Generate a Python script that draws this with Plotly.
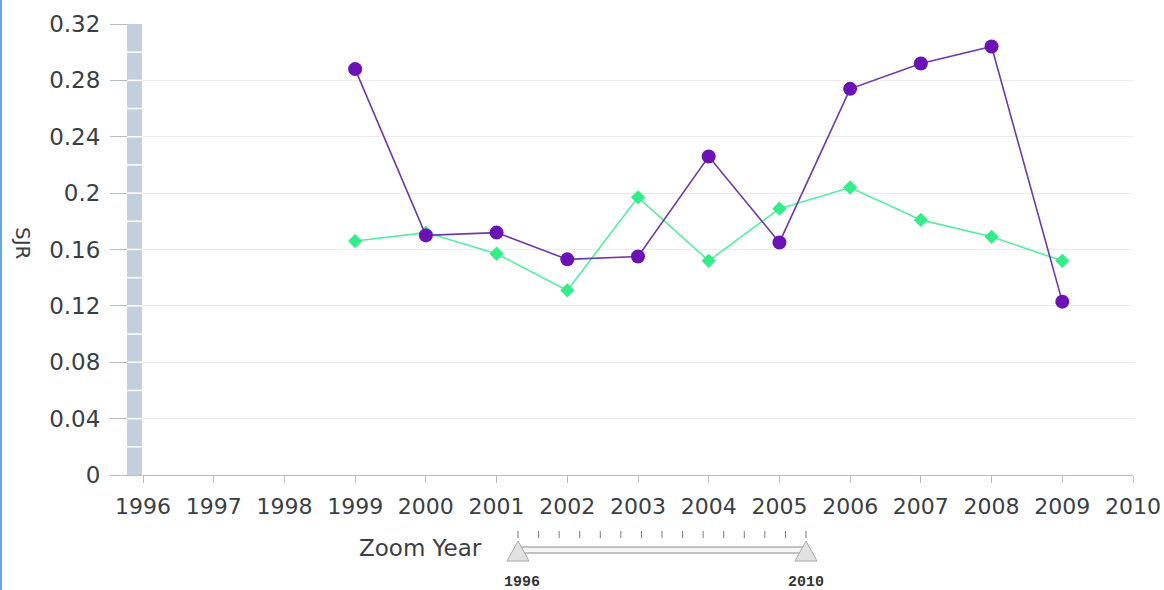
import plotly.graph_objects as go

years = [1999, 2000, 2001, 2002, 2003, 2004, 2005, 2006, 2007, 2008, 2009]
sjr_purple = [0.288, 0.170, 0.172, 0.153, 0.155, 0.226, 0.165, 0.274, 0.292, 0.304, 0.123]
sjr_green = [0.166, 0.172, 0.157, 0.131, 0.197, 0.152, 0.189, 0.204, 0.181, 0.169, 0.152]
x_ticks = list(range(1996, 2011))
y_ticks = [0, 0.04, 0.08, 0.12, 0.16, 0.2, 0.24, 0.28, 0.32]
y_tick_text = ["0", "0.04", "0.08", "0.12", "0.16", "0.2", "0.24", "0.28", "0.32"]
slider_years = list(range(1996, 2011))

W, H = 1164, 590
L, R, T, B = 143, 31, 24, 115
PW, PH = W - L - R, H - T - B


def px(x):
    return (x - L) / PW


def py(y):
    return (H - B - y) / PH


fig = go.Figure()
fig.add_trace(go.Scatter(
    x=years, y=sjr_green, mode="lines+markers",
    line=dict(color="#55eda0", width=1.6),
    marker=dict(symbol="diamond", size=11, color="#33ee88"),
    showlegend=False))
fig.add_trace(go.Scatter(
    x=years, y=sjr_purple, mode="lines+markers",
    line=dict(color="#6e3aa6", width=1.6),
    marker=dict(symbol="circle", size=14, color="#6a12b4"),
    showlegend=False))

xfont = dict(family="DejaVu Sans", size=22, color="#3a3f45")
yfont = dict(family="DejaVu Sans", size=23, color="#3a3f45")

fig.update_layout(
    width=W, height=H, autosize=False,
    margin=dict(l=L, r=R, t=T, b=B, pad=0, autoexpand=False),
    paper_bgcolor="white", plot_bgcolor="white",
    font=xfont,
    xaxis=dict(range=[1996, 2010], tickvals=x_ticks, ticktext=[str(v) for v in x_ticks],
               showgrid=False, showline=True, linecolor="#b4bcc6", linewidth=1,
               ticks="outside", ticklen=7, tickcolor="#b4bcc6", tickfont=xfont,
               zeroline=False, ticklabelstandoff=5, automargin=False),
    yaxis=dict(range=[0, 0.32], tickvals=y_ticks, ticktext=y_tick_text,
               showgrid=True, gridcolor="#ececec", gridwidth=1,
               showline=False, zeroline=False,
               ticks="outside", ticklen=32, tickcolor="#b4bcc6", tickfont=yfont,
               ticklabelstandoff=5, automargin=False),
)

shapes = []
# vertical band on y axis
shapes.append(dict(type="rect", xref="paper", yref="y", x0=px(127), x1=px(142), y0=0, y1=0.32,
                   fillcolor="#c3cfdc", line=dict(width=0), layer="above"))
for i in range(1, 16):
    v = i * 0.02
    shapes.append(dict(type="line", xref="paper", yref="y", x0=px(127), x1=px(142), y0=v, y1=v,
                       line=dict(color="white", width=1.5), layer="above"))
# left window border
shapes.append(dict(type="line", xref="paper", yref="paper", x0=px(1), x1=px(1), y0=py(0), y1=py(H),
                   line=dict(color="#6aa8d8", width=2)))
# slider ticks
for i, yr in enumerate(slider_years):
    sx = 518 + i * (806 - 518) / (len(slider_years) - 1)
    shapes.append(dict(type="line", xref="paper", yref="paper", x0=px(sx), x1=px(sx), y0=py(531), y1=py(538),
                       line=dict(color="#777", width=1)))
# slider track
shapes.append(dict(type="rect", xref="paper", yref="paper", x0=px(520), x1=px(805), y0=py(547), y1=py(553),
                   fillcolor="#f6f6f6", line=dict(color="#8a8a8a", width=1)))
# slider handles
for cx in (518, 806):
    path = "M {} {} L {} {} L {} {} Z".format(px(cx), py(541), px(cx - 11), py(561), px(cx + 11), py(561))
    shapes.append(dict(type="path", xref="paper", yref="paper", path=path,
                       fillcolor="#e2e2e2", line=dict(color="#a8a8a8", width=1)))
fig.update_layout(shapes=shapes)

ann = [
    dict(text="SJR", textangle=90, x=px(23), y=py(243), xref="paper", yref="paper", showarrow=False,
         xanchor="center", yanchor="middle", font=dict(family="DejaVu Sans", size=20, color="#3a3f45")),
    dict(text="Zoom Year", x=px(420), y=py(548), xref="paper", yref="paper", showarrow=False,
         xanchor="center", yanchor="middle", font=dict(family="DejaVu Sans", size=23, color="#3a3f45")),
    dict(text="<b>1996</b>", x=px(522), y=py(582), xref="paper", yref="paper", showarrow=False,
         xanchor="center", yanchor="middle", font=dict(family="Liberation Mono", size=15, color="#333")),
    dict(text="<b>2010</b>", x=px(806), y=py(582), xref="paper", yref="paper", showarrow=False,
         xanchor="center", yanchor="middle", font=dict(family="Liberation Mono", size=15, color="#333")),
]
fig.update_layout(annotations=ann)

fig.write_html("out.html", config={"displayModeBar": False, "responsive": False},
               post_script="document.body.style.margin='0';document.body.style.overflow='hidden';")
